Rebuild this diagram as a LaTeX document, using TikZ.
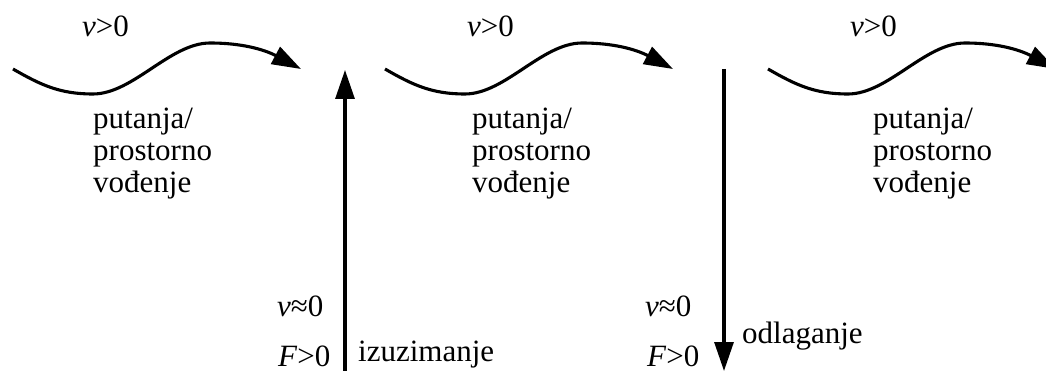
\documentclass[tikz,border=0pt]{standalone}
\usepackage{fontspec}
\setmainfont{Liberation Serif}
\usetikzlibrary{arrows.meta}

\begin{document}
\begin{tikzpicture}[
  x=1pt,y=-1pt,
  every node/.style={font=\fontsize{31}{32}\selectfont,inner sep=0pt},
  label/.style={anchor=base west},
  block/.style={anchor=north west,align=left},
  arrow/.style={-{Triangle[length=29pt,width=19pt]},line width=3.1pt},
]
\clip (0,0) rectangle (1046,371);

% Trajectories
\coordinate (w1s) at (13,69);   \coordinate (w1e) at (301,69);
\coordinate (w2s) at (385,69);  \coordinate (w2e) at (673,69);
\coordinate (w3s) at (768,69);  \coordinate (w3e) at (1056,69);

\draw[arrow] (w1s) to[out=-30,in=180] ++(80,25) to[out=0,in=180,looseness=0.8] ++(117,-51)
                   to[out=0,in=152] (w1e);
\draw[arrow] (w2s) to[out=-30,in=180] ++(80,25) to[out=0,in=180,looseness=0.8] ++(117,-51)
                   to[out=0,in=152] (w2e);
\draw[arrow] (w3s) to[out=-30,in=180] ++(80,25) to[out=0,in=180,looseness=0.8] ++(117,-51)
                   to[out=0,in=152] (w3e);

\node[label] (v1) at (82,37)  {\textit{v}>0};
\node[label] (v2) at (467,37) {\textit{v}>0};
\node[label] (v3) at (850,37) {\textit{v}>0};

\node[block] (p1) at (93,108)  {putanja/\\prostorno\\vođenje};
\node[block] (p2) at (472,108) {putanja/\\prostorno\\vođenje};
\node[block] (p3) at (873,108) {putanja/\\prostorno\\vođenje};

% Pick-up and put-down
\coordinate (up0) at (345,380);  \coordinate (up1) at (345,70);
\coordinate (dn0) at (724,69);   \coordinate (dn1) at (724,371);
\draw[arrow] (up0) -- (up1);
\draw[arrow] (dn0) -- (dn1);

\node[label] (s1) at (277,316) {\textit{v}≈0};
\node[label] (f1) at (278,366) {\textit{F}>0};
\node[label] (a1) at (358,361) {izuzimanje};

\node[label] (s2) at (645,316) {\textit{v}≈0};
\node[label] (f2) at (647,366) {\textit{F}>0};
\node[label] (a2) at (742,343) {odlaganje};
\end{tikzpicture}
\end{document}
